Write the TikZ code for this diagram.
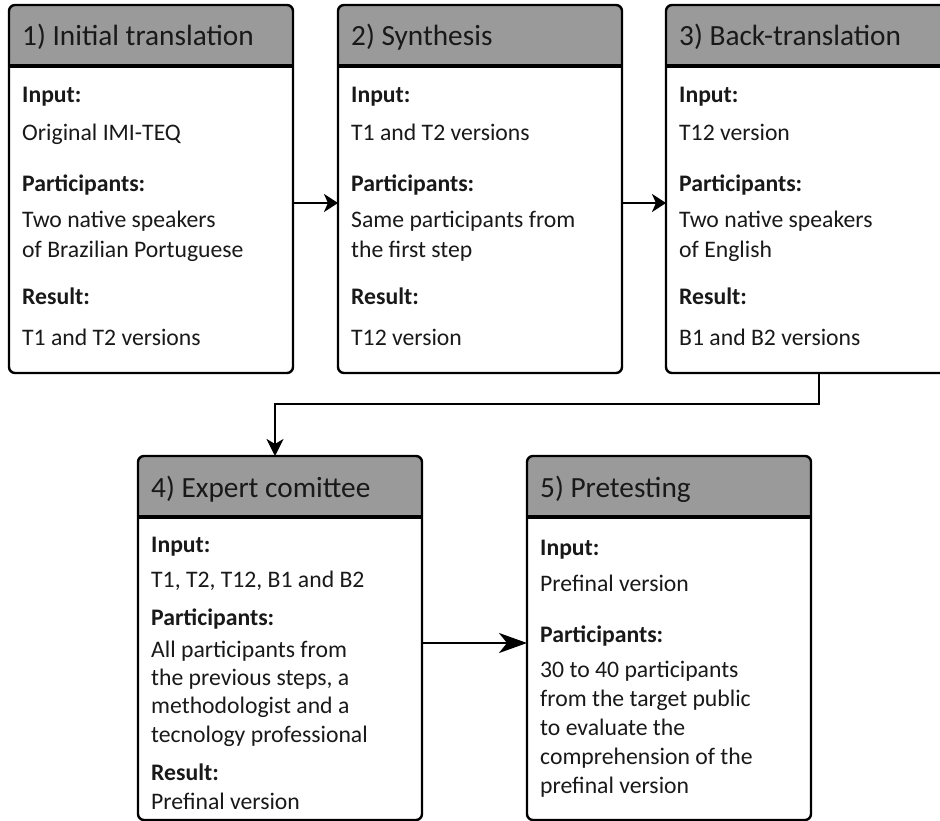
\documentclass[tikz,border=0pt]{standalone}
\usepackage{fontspec}
\setmainfont{Carlito}
\usetikzlibrary{positioning,calc,arrows.meta}
\definecolor{headgray}{HTML}{9A9A9A}

\tikzset{
   stepbox/.style={draw, line width=2.4pt, rounded corners=6pt, fill=white,
      minimum width=284pt, minimum height=#1, inner sep=0pt, outer sep=0pt,
      anchor=north west,
      path picture={\fill[headgray] (path picture bounding box.north west)
         rectangle ([yshift=-61pt]path picture bounding box.north east);}},
   headline/.style={line width=3.2pt},
   headtext/.style={anchor=base west, inner sep=0pt, text=black!90,
      font=\fontsize{29.3pt}{35pt}\selectfont},
   bodytext/.style={anchor=base west, inner sep=0pt, text=black!90,
      font=\fontsize{23.7pt}{29pt}\selectfont},
   bodylabel/.style={bodytext, font=\fontsize{23.7pt}{29pt}\selectfont\bfseries},
   flow/.style={line width=2.6pt},
}

\begin{document}
\begin{tikzpicture}[x=1pt, y=-1pt]
   \useasboundingbox (0,0) rectangle (940,821);
   \clip (0,0) rectangle (940,821);

   % the five steps
   \node[stepbox=368pt]                     (b1) at (9,5) {};
   \node[stepbox=368pt, right=45pt of b1]   (b2) {};
   \node[stepbox=368pt, right=44pt of b2]   (b3) {};
   \node[stepbox=364pt]                     (b4) at (138,456) {};
   \node[stepbox=364pt, right=105pt of b4]  (b5) {};

   \foreach \b in {b1,b2,b3,b4,b5}
      \draw[headline] ([yshift=-61pt]\b.north west) -- ([yshift=-61pt]\b.north east);

   % headers
   \node[headtext] (h1) at ([shift={(13,41)}]b1.north west) {1) Initial translation};
   \node[headtext] (h2) at ([shift={(13,41)}]b2.north west) {2) Synthesis};
   \node[headtext] (h3) at ([shift={(13,41)}]b3.north west) {3) Back-translation};
   \node[headtext] (h4) at ([shift={(13,41)}]b4.north west) {4) Expert comittee};
   \node[headtext] (h5) at ([shift={(13,41)}]b5.north west) {5) Pretesting};

   % step 1
   \node[bodylabel] (b1in)  at ([shift={(13,98)}]b1.north west)  {Input:};
   \node[bodytext]  (b1inv) at ([shift={(13,136)}]b1.north west) {Original IMI-TEQ};
   \node[bodylabel] (b1pa)  at ([shift={(13,187)}]b1.north west) {Participants:};
   \node[bodytext]  (b1pv1) at ([shift={(13,223)}]b1.north west) {Two native speakers};
   \node[bodytext]  (b1pv2) at ([shift={(13,253)}]b1.north west) {of Brazilian Portuguese};
   \node[bodylabel] (b1re)  at ([shift={(13,300)}]b1.north west) {Result:};
   \node[bodytext]  (b1rev) at ([shift={(13,340)}]b1.north west) {T1 and T2 versions};

   % step 2
   \node[bodylabel] (b2in)  at ([shift={(13,98)}]b2.north west)  {Input:};
   \node[bodytext]  (b2inv) at ([shift={(13,136)}]b2.north west) {T1 and T2 versions};
   \node[bodylabel] (b2pa)  at ([shift={(13,187)}]b2.north west) {Participants:};
   \node[bodytext]  (b2pv1) at ([shift={(13,223)}]b2.north west) {Same participants from};
   \node[bodytext]  (b2pv2) at ([shift={(13,253)}]b2.north west) {the first step};
   \node[bodylabel] (b2re)  at ([shift={(13,300)}]b2.north west) {Result:};
   \node[bodytext]  (b2rev) at ([shift={(13,340)}]b2.north west) {T12 version};

   % step 3
   \node[bodylabel] (b3in)  at ([shift={(13,98)}]b3.north west)  {Input:};
   \node[bodytext]  (b3inv) at ([shift={(13,136)}]b3.north west) {T12 version};
   \node[bodylabel] (b3pa)  at ([shift={(13,187)}]b3.north west) {Participants:};
   \node[bodytext]  (b3pv1) at ([shift={(13,223)}]b3.north west) {Two native speakers};
   \node[bodytext]  (b3pv2) at ([shift={(13,253)}]b3.north west) {of English};
   \node[bodylabel] (b3re)  at ([shift={(13,300)}]b3.north west) {Result:};
   \node[bodytext]  (b3rev) at ([shift={(13,340)}]b3.north west) {B1 and B2 versions};

   % step 4
   \node[bodylabel] (b4in)  at ([shift={(13,96)}]b4.north west)  {Input:};
   \node[bodytext]  (b4inv) at ([shift={(13,131)}]b4.north west) {T1, T2, T12, B1 and B2};
   \node[bodylabel] (b4pa)  at ([shift={(13,169)}]b4.north west) {Participants:};
   \node[bodytext]  (b4pv1) at ([shift={(13,201)}]b4.north west) {All participants from};
   \node[bodytext]  (b4pv2) at ([shift={(13,229)}]b4.north west) {the previous steps, a};
   \node[bodytext]  (b4pv3) at ([shift={(13,257)}]b4.north west) {methodologist and a};
   \node[bodytext]  (b4pv4) at ([shift={(13,286)}]b4.north west) {tecnology professional};
   \node[bodylabel] (b4re)  at ([shift={(13,324)}]b4.north west) {Result:};
   \node[bodytext]  (b4rev) at ([shift={(13,353)}]b4.north west) {Prefinal version};

   % step 5
   \node[bodylabel] (b5in)  at ([shift={(13,99)}]b5.north west)  {Input:};
   \node[bodytext]  (b5inv) at ([shift={(13,135)}]b5.north west) {Prefinal version};
   \node[bodylabel] (b5pa)  at ([shift={(13,186)}]b5.north west) {Participants:};
   \node[bodytext]  (b5pv1) at ([shift={(13,221)}]b5.north west) {30 to 40 participants};
   \node[bodytext]  (b5pv2) at ([shift={(13,250)}]b5.north west) {from the target public};
   \node[bodytext]  (b5pv3) at ([shift={(13,279)}]b5.north west) {to evaluate the};
   \node[bodytext]  (b5pv4) at ([shift={(13,308)}]b5.north west) {comprehension of the};
   \node[bodytext]  (b5pv5) at ([shift={(13,337)}]b5.north west) {prefinal version};

   % flow between the steps
   \draw[flow, -{Stealth[length=14pt, width=18pt, inset=4pt]}]
      ([yshift=-14pt]b1.east) -- ([yshift=-14pt]b2.west);
   \draw[flow, -{Stealth[length=14pt, width=18pt, inset=4pt]}]
      ([yshift=-14pt]b2.east) -- ([yshift=-14pt]b3.west);
   \draw[flow, -{Stealth[length=17pt, width=17pt, inset=5pt]}]
      ([xshift=11pt]b3.south) -- ++(0,31) -| ([xshift=-5pt]b4.north);
   \draw[flow, -{Stealth[length=28pt, width=20pt, inset=8pt]}]
      ([yshift=-5pt]b4.east) -- ([yshift=-5pt]b5.west);
\end{tikzpicture}
\end{document}
